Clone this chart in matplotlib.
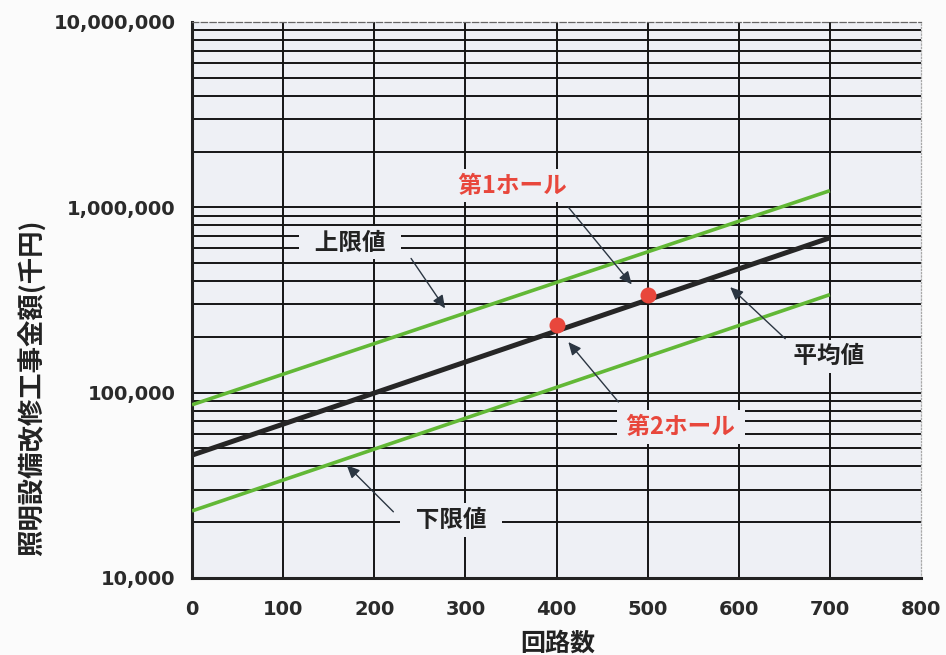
import matplotlib
matplotlib.use('Agg')
import matplotlib.pyplot as plt
from matplotlib.ticker import LogLocator, NullFormatter

# ---------------- data ----------------
circuits = [0, 700]
upper_limit = [86000, 1230000]
average = [46000, 685000]
lower_limit = [23000, 338000]

hall_names = ['第1ホール', '第2ホール']
hall_circuits = [500, 400]
hall_costs = [335000, 231000]

x_ticks = [0, 100, 200, 300, 400, 500, 600, 700, 800]
x_tick_labels = ['0', '100', '200', '300', '400', '500', '600', '700', '800']
y_ticks = [1e4, 1e5, 1e6, 1e7]
y_tick_labels = ['10,000', '100,000', '1,000,000', '10,000,000']

series_labels = ['上限値', '平均値', '下限値']
x_label = '回路数'
y_label = '照明設備改修工事金額(千円)'

# ---------------- style ----------------
CJK = ['Noto Sans CJK JP', 'DejaVu Sans']
BG = '#eef0f5'
GREEN = '#62b836'
BLACK = '#262626'
RED = '#e8473c'
ARROW = '#2b3642'
TXT = '#222222'

W, H = 946, 655
fig = plt.figure(figsize=(W / 100, H / 100), dpi=100, facecolor='#fbfbfb')
L, R, T, B = 192, 921, 22, 578
ax = fig.add_axes([L / W, 1 - B / H, (R - L) / W, (B - T) / H])
ax.set_facecolor(BG)
ax.set_yscale('log')
ax.set_xlim(0, 800)
ax.set_ylim(1e4, 1e7)

ax.set_xticks(x_ticks)
ax.set_xticklabels(x_tick_labels)
ax.set_yticks(y_ticks)
ax.set_yticklabels(y_tick_labels)
ax.yaxis.set_minor_locator(LogLocator(base=10, subs=range(2, 10)))
ax.yaxis.set_minor_formatter(NullFormatter())
ax.tick_params(which='both', length=0)
ax.tick_params(axis='x', pad=16)
ax.tick_params(axis='y', pad=12)
for lab in ax.get_xticklabels() + ax.get_yticklabels():
    lab.set_fontfamily('DejaVu Sans')
    lab.set_fontweight('bold')
    lab.set_fontsize(14)
    lab.set_color('#2a2a2a')

ax.set_axisbelow(True)
ax.grid(which='major', axis='both', color='#151515', lw=1.4)
ax.grid(which='minor', axis='y', color='#151515', lw=1.4)
xt = ax.xaxis.get_major_ticks()
xt[0].gridline.set_visible(False)
xt[-1].gridline.set_visible(False)
yt = ax.yaxis.get_major_ticks()
yt[0].gridline.set_visible(False)
yt[-1].gridline.set_visible(False)

for s in ('left', 'bottom'):
    ax.spines[s].set_linewidth(2.2)
    ax.spines[s].set_color('#222222')
ax.spines['top'].set_linewidth(0.9)
ax.spines['top'].set_color('#666666')
ax.spines['top'].set_linestyle((0, (5, 2)))
ax.spines['right'].set_linewidth(0.9)
ax.spines['right'].set_color('#aaaaaa')
ax.spines['right'].set_linestyle(':')

# ---------------- series ----------------
ax.plot(circuits, upper_limit, color=GREEN, lw=2.6, zorder=3, solid_capstyle='butt')
ax.plot(circuits, lower_limit, color=GREEN, lw=2.6, zorder=3, solid_capstyle='butt')
ax.plot(circuits, average, color=BLACK, lw=3.6, zorder=4, solid_capstyle='butt')
ax.plot(hall_circuits, hall_costs, 'o', color=RED, ms=11.5, mec='none', zorder=5)

# ---------------- annotations ----------------
label_style = dict(fontsize=17, fontweight='bold', family=CJK, ha='center', va='center',
                   zorder=2.5,
                   bbox=dict(boxstyle='square,pad=0.2', fc=BG, ec='none'))

ax.text(173.4, 646e3, '  ' + series_labels[0] + '  ', color=TXT, **label_style)
ax.text(698.5, 157e3, ' ' + series_labels[1] + ' ', color=TXT, **label_style)
ax.text(284.2, 20.5e3, '  ' + series_labels[2] + '  ', color=TXT, **label_style)
ax.text(351.8, 1.311e6, ' ' + hall_names[0] + ' ', color=RED, **label_style)
ax.text(536.6, 65.35e3, ' ' + hall_names[1] + ' ', color=RED, **label_style)

arrow_props = dict(arrowstyle='-|>,head_length=0.55,head_width=0.25', lw=1.0,
                   color=ARROW, shrinkA=0, shrinkB=0, mutation_scale=14)
arrows = [
    ((240.4, 530e3), (277.7, 285e3)),
    ((413.0, 1.0014e6), (482.6, 383.7e3)),
    ((651.0, 195.6e3), (590.6, 371e3)),
    ((468.0, 89.1e3), (413.0, 187.6e3)),
    ((221.0, 22.76e3), (169.8, 40.6e3)),
]
for tail, tip in arrows:
    ax.annotate('', xy=tip, xytext=tail, arrowprops=arrow_props, zorder=6)

# ---------------- axis titles ----------------
fig.text(558 / W, 1 - 644 / H, x_label, family=CJK, fontsize=18, fontweight='bold',
         ha='center', va='center', color=TXT)
fig.text(33 / W, 1 - 388 / H, y_label, family=CJK, fontsize=19, fontweight='bold',
         ha='center', va='center', rotation=90, color=TXT)

fig.savefig('out.png', dpi=100, facecolor=fig.get_facecolor())
